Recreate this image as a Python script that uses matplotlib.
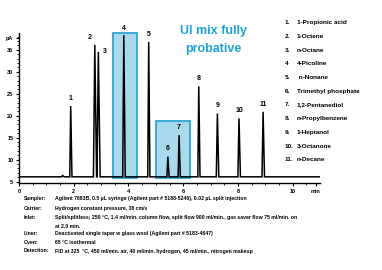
import matplotlib
matplotlib.use('Agg')
import matplotlib.pyplot as plt
from matplotlib.patches import Rectangle

# peak table: retention time (min), height (pA), half base width (min)
peak_ids = ['1', '2', '3', '4', '5', '6', '7', '8', '9', '10', '11']
peak_rt = [1.89, 2.77, 2.90, 3.83, 4.74, 5.44, 5.85, 6.57, 7.25, 8.04, 8.92]
peak_h = [22.2, 36.1, 34.5, 38.3, 36.8, 10.7, 15.6, 26.7, 20.5, 19.4, 20.9]
peak_w = [0.035, 0.05, 0.05, 0.04, 0.035, 0.035, 0.035, 0.035, 0.04, 0.04, 0.04]
baseline = 6.1
run_end = 11.05

# highlighted windows: (start, end, top)
windows = [(3.44, 4.32, 38.9), (5.0, 6.24, 18.9)]

compounds = ['1-Propionic acid', '1-Octene', 'n-Octane', '4-Picoline', ' n-Nonane',
             'Trimethyl phosphate', '1,2-Pentanediol', 'n-Propylbenzene',
             '1-Heptanol', '3-Octanone', 'n-Decane']
compound_nums = ['1.', '2.', '3.', '4', '5.', '6.', '7.', '8.', '9.', '10.', '11.']

cond_labels = ['Sampler:', 'Carrier:', 'Inlet:', '', 'Liner:', 'Oven:', 'Detection:']
cond_values = ['Agilent 7683B, 0.5 \u00b5L syringe (Agilent part # 5188-5246), 0.02 \u00b5L split injection',
               'Hydrogen constant pressure, 38 cm/s',
               'Split/splitless; 250 \u00b0C, 1.4 ml/min. column flow, split flow 900 ml/min., gas saver flow 75 ml/min. on',
               'at 2.0 min.',
               'Deactivated single taper w glass wool (Agilent part # 5183-4647)',
               '65 \u00b0C isothermal',
               'FID at 325  \u00b0C, 450 ml/min. air, 40 ml/min. hydrogen, 45 ml/min., nitrogen makeup']

plt.rcParams['font.family'] = ['Liberation Sans Narrow', 'Liberation Sans', 'DejaVu Sans']
plt.rcParams['font.weight'] = 'bold'

fig = plt.figure(figsize=(3.82, 2.70), dpi=100)
ax = fig.add_axes([19/382, 1-183/270, (320-19)/382, 150/270])

# build trace
xs = [0.0, 1.55, 1.6, 1.65]
ys = [baseline, baseline, baseline + 0.3, baseline]
for rt, h, w in zip(peak_rt, peak_h, peak_w):
    xs += [rt - w, rt, rt + w * 1.3]
    ys += [baseline, h, baseline]
xs.append(run_end)
ys.append(baseline)
ax.plot(xs, ys, color='black', lw=1.1, zorder=3, solid_joinstyle='miter')

for x0, x1, top in windows:
    ax.add_patch(Rectangle((x0, 5.84), x1 - x0, top - 5.84, facecolor='#a8daec',
                           edgecolor='#2aa5d3', lw=1.3, zorder=2, clip_on=False))

# peak labels
label_dx = [0, -4, 5, 0, 0, 0, 0, 0, 0, 0, 0]
label_dy = [3, 3, -2, 2, 3, 3, 3, 3, 3, 3, 3]
for pid, rt, h, dx, dy in zip(peak_ids, peak_rt, peak_h, label_dx, label_dy):
    ax.annotate(pid, (rt, h), xytext=(dx, dy), textcoords='offset points',
                ha='center', va='bottom', fontsize=5, fontweight='bold')

ax.set_xlim(0, 11.0)
ax.set_ylim(4.7, 38.8)
for s in ['top', 'right']:
    ax.spines[s].set_visible(False)
ax.spines['left'].set_linewidth(1.0)
ax.spines['bottom'].set_linewidth(1.0)
ax.set_xticks([0, 2, 4, 6, 8, 10, 10.85])
ax.set_xticklabels(['0', '2', '4', '6', '8', '10', 'min'])
ax.set_xticks([i * 0.5 for i in range(22)], minor=True)
ax.set_yticks([5, 10, 15, 20, 25, 30, 35, 37.7])
ax.set_yticklabels(['5', '10', '15', '20', '25', '30', '35', 'pA'])
ax.set_yticks(range(5, 39), minor=True)
ax.tick_params(which='major', length=2.5, width=0.8, labelsize=4, pad=1.5)
ax.tick_params(which='minor', length=1.5, width=0.6)
ax.patch.set_alpha(0)

fig.text(214/382, 1-31/270, 'UI mix fully', color='#1ea3d8', fontsize=9,
         fontweight='bold', ha='center', va='center')
fig.text(213/382, 1-49/270, 'probative', color='#1ea3d8', fontsize=9,
         fontweight='bold', ha='center', va='center')

for i, (num, name) in enumerate(zip(compound_nums, compounds)):
    y = 1 - (22.7 + i * 13.7) / 270
    fig.text(285/382, y, num, fontsize=4.6, fontweight='bold', va='center')
    fig.text(297/382, y, name, fontsize=4.6, fontweight='bold', va='center')

cond_y = [198.7, 208.3, 217.3, 226.0, 233.3, 242.3, 251.0]
for lab, val, yy in zip(cond_labels, cond_values, cond_y):
    fig.text(24/382, 1 - yy/270, lab, fontsize=3.7, fontweight='bold', va='center')
    fig.text(55/382, 1 - yy/270, val, fontsize=3.7, fontweight='bold', va='center')

fig.savefig('out.png', dpi=100)
